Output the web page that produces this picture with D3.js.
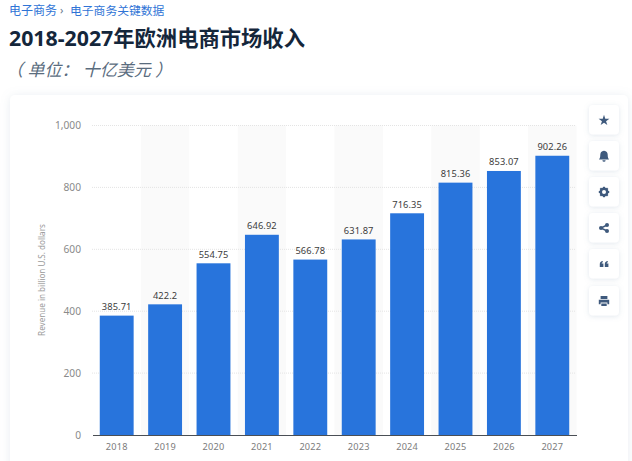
<!DOCTYPE html>
<html><head><meta charset="utf-8">
<script src="https://cdn.jsdelivr.net/npm/d3@7/dist/d3.min.js"></script>
<style>
html,body{margin:0;padding:0;background:#fff;overflow:hidden}
svg{display:block}
text{font-family:"Noto Sans","Noto Sans CJK SC",sans-serif}
</style></head><body>
<svg id="c" width="632" height="461"></svg>
<script>
const categories=["2018","2019","2020","2021","2022","2023","2024","2025","2026","2027"];
const revenue=[385.71,422.2,554.75,646.92,566.78,631.87,716.35,815.36,853.07,902.26];
const labels=["385.71","422.2","554.75","646.92","566.78","631.87","716.35","815.36","853.07","902.26"];
const yTicks=[0,200,400,600,800,1000];
const crumbs=["电子商务","电子商务关键数据"];
const titleText="2018-2027年欧洲电商市场收入";
const subtitleText="（ 单位： 十亿美元  ）";
const yTitle="Revenue in billion U.S. dollars";

const svg=d3.select("#c");
const defs=svg.append("defs");
const f=defs.append("filter").attr("id","sh").attr("x","-10%").attr("y","-10%").attr("width","120%").attr("height","120%");
f.append("feDropShadow").attr("dx",0).attr("dy",1).attr("stdDeviation",5).attr("flood-color","#8aa0b8").attr("flood-opacity",0.2);
const f2=defs.append("filter").attr("id","sh2").attr("x","-30%").attr("y","-30%").attr("width","160%").attr("height","160%");
f2.append("feDropShadow").attr("dx",0).attr("dy",1).attr("stdDeviation",2.5).attr("flood-color","#8aa0b8").attr("flood-opacity",0.25);

// header
svg.append("text").attr("x",9).attr("y",14.5).attr("font-size",12).attr("fill","#2f74d6").text(crumbs[0]);
svg.append("text").attr("x",60).attr("y",14).attr("font-size",11).attr("fill","#66788c").text("›");
svg.append("text").attr("x",70).attr("y",14.5).attr("font-size",11.8).attr("fill","#2f74d6").text(crumbs[1]);
svg.append("text").attr("x",9).attr("y",45.5).attr("font-size",21.3).attr("font-weight",700).attr("fill","#14263b").text(titleText);
svg.append("text").attr("x",6).attr("y",75.5).attr("font-size",17).attr("font-style","italic").attr("fill","#5a6c7e").text(subtitleText);

// card
svg.append("rect").attr("x",10).attr("y",95).attr("width",618).attr("height",400).attr("rx",5).attr("fill","#fff").attr("filter","url(#sh)");

// scales
const x=d3.scaleBand().domain(categories).range([92.5,576.5]).paddingInner(0.3).paddingOuter(0.15);
const bands=d3.scaleBand().domain(categories).range([92.5,576.5]);
const y=d3.scaleLinear().domain([0,1000]).range([435,125.5]);

// alternate shading
svg.append("g").selectAll("rect").data(categories.filter((d,i)=>i%2===1)).join("rect")
  .attr("x",d=>bands(d)).attr("width",bands.bandwidth()).attr("y",y(1000)).attr("height",y(0)-y(1000)).attr("fill","#fafafa");

// grid
svg.append("g").selectAll("line").data(yTicks.filter(d=>d>0)).join("line")
  .attr("x1",92).attr("x2",576).attr("y1",d=>y(d)).attr("y2",d=>y(d))
  .attr("stroke","#e4e4e4").attr("stroke-width",1).attr("stroke-dasharray","1 1");

// y axis
const ya=svg.append("g").attr("transform","translate(92,0)")
  .call(d3.axisLeft(y).tickValues(yTicks).tickSize(0).tickPadding(11).tickFormat(d3.format(",")));
ya.select(".domain").remove();
ya.selectAll("text").attr("font-size",10.2).attr("fill","#8a8a8a").attr("font-family",'"DejaVu Sans",sans-serif');

svg.append("text").attr("transform","translate(45,280) rotate(-90)").attr("text-anchor","middle")
  .attr("font-size",8.1).attr("fill","#9a9a9a").text(yTitle);

// bars
svg.append("g").selectAll("rect").data(categories).join("rect")
  .attr("x",d=>x(d)).attr("width",x.bandwidth())
  .attr("y",(d,i)=>y(revenue[i])).attr("height",(d,i)=>y(0)-y(revenue[i]))
  .attr("fill","#2874dc");

// labels
svg.append("g").selectAll("text").data(categories).join("text")
  .attr("x",d=>x(d)+x.bandwidth()/2).attr("y",(d,i)=>y(revenue[i])-5.5)
  .attr("text-anchor","middle").attr("font-size",9.3).attr("letter-spacing",0.1).attr("fill","#3c3c3c")
  .attr("font-family",'"DejaVu Sans",sans-serif').text((d,i)=>labels[i]);

// x axis
const xa=svg.append("g").attr("transform","translate(0,435)")
  .call(d3.axisBottom(x).tickSize(0).tickPadding(8));
xa.select(".domain").attr("stroke","#4a4f55").attr("stroke-width",1);
xa.selectAll("text").attr("font-size",9.2).attr("letter-spacing",0.2).attr("fill","#7c7c7c").attr("font-family",'"DejaVu Sans",sans-serif');

// toolbar
const buttonTops=[105,141,177,213,249,286];
const iconColor="#3f5a7d";
const icons=[
 g=>g.append("path").attr("d",d3.symbol(d3.symbolStar,36)()).attr("transform","translate(0,0.5)").attr("fill",iconColor),
 g=>{g.append("path").attr("d","M-5,3.4 C-3.4,1.8 -3.9,-1 -3.6,-2.2 C-3.1,-4.4 -1.3,-5.2 0,-5.2 C1.3,-5.2 3.1,-4.4 3.6,-2.2 C3.9,-1 3.4,1.8 5,3.4 Z").attr("fill",iconColor);
     g.append("path").attr("d","M-1.6,4.2 H1.6 A1.6,1.5 0 0 1 -1.6,4.2 Z").attr("fill",iconColor);},
 g=>{g.append("circle").attr("r",3.4).attr("fill","none").attr("stroke",iconColor).attr("stroke-width",2.2);
     g.selectAll("rect").data(d3.range(0,180,45)).join("rect").attr("x",-1).attr("y",-5.2).attr("width",2).attr("height",10.4)
      .attr("fill",iconColor).attr("transform",d=>`rotate(${d})`);
     g.append("circle").attr("r",2).attr("fill","#fff");},
 g=>{g.append("path").attr("d","M3,-3 L-3,0 L3,3").attr("fill","none").attr("stroke",iconColor).attr("stroke-width",1.4);
     g.selectAll("circle").data([[3,-3],[-3,0],[3,3]]).join("circle").attr("cx",d=>d[0]).attr("cy",d=>d[1]).attr("r",2).attr("fill",iconColor);},
 g=>g.append("path").attr("d","M-4.2,0 C-4.2,-1.8 -3,-2.8 -1.2,-3 V-1.8 C-2,-1.6 -2.2,-1.2 -2.3,-0.6 H-0.6 V3 H-4.2 Z M0.8,0 C0.8,-1.8 2,-2.8 3.8,-3 V-1.8 C3,-1.6 2.8,-1.2 2.7,-0.6 H4.4 V3 H0.8 Z").attr("fill",iconColor),
 g=>{g.append("path").attr("d","M-3.4,-5 H3.4 V-2 H-3.4 Z M-5.2,-1.2 H5.2 V3.2 H3.4 V1.5 H-3.4 V3.2 H-5.2 Z M-2.7,2.4 H2.7 V5 H-2.7 Z").attr("fill",iconColor);}
];
const tb=svg.append("g");
buttonTops.forEach((t,i)=>{
  tb.append("rect").attr("x",589).attr("y",t).attr("width",30).attr("height",29.5).attr("rx",4).attr("fill","#fff").attr("filter","url(#sh2)");
  const g=tb.append("g").attr("transform",`translate(604,${t+15})`);
  icons[i](g);
});
</script></body></html>
